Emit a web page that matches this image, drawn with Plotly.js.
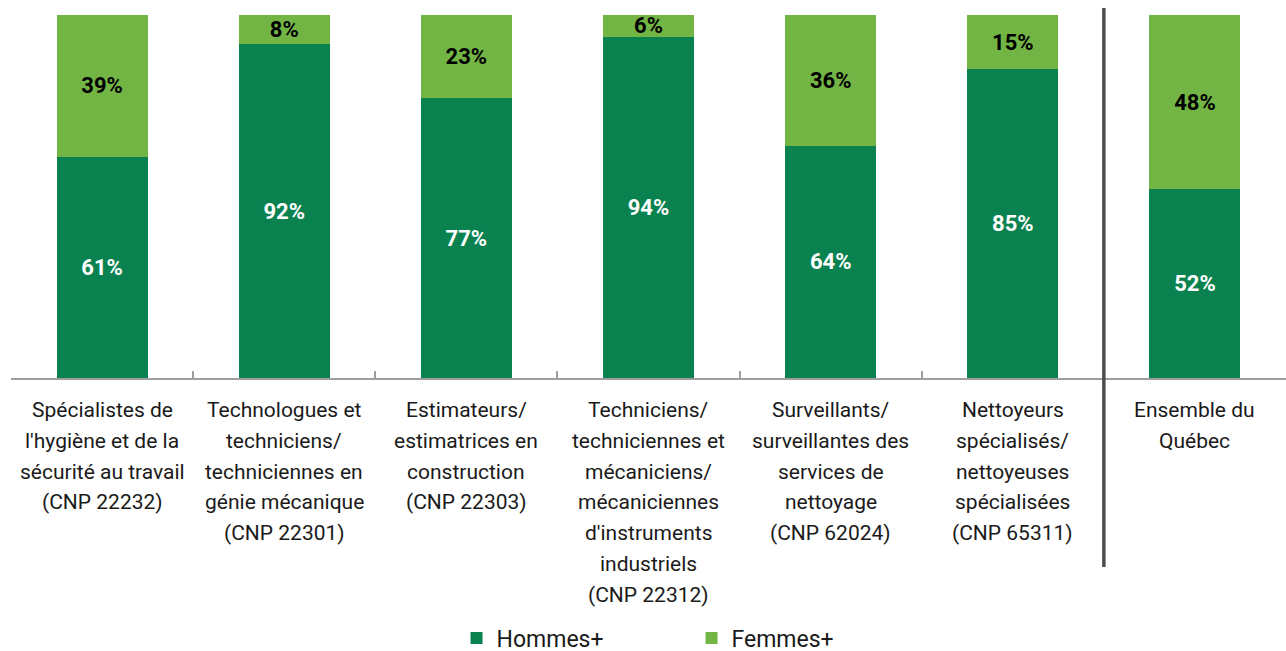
<!DOCTYPE html>
<html>
<head>
<meta charset="utf-8">
<script src="https://cdn.plot.ly/plotly-3.0.1.min.js"></script>
<style>
html,body{margin:0;padding:0;background:#fff;}
#chart{width:1286px;height:651px;}
</style>
</head>
<body>
<div id="chart"></div>
<script>
const categories = [
  "Spécialistes de<br>l'hygiène et de la<br>sécurité au travail<br>(CNP 22232)",
  "Technologues et<br>techniciens/<br>techniciennes en<br>génie mécanique<br>(CNP 22301)",
  "Estimateurs/<br>estimatrices en<br>construction<br>(CNP 22303)",
  "Techniciens/<br>techniciennes et<br>mécaniciens/<br>mécaniciennes<br>d'instruments<br>industriels<br>(CNP 22312)",
  "Surveillants/<br>surveillantes des<br>services de<br>nettoyage<br>(CNP 62024)",
  "Nettoyeurs<br>spécialisés/<br>nettoyeuses<br>spécialisées<br>(CNP 65311)",
  "Ensemble du<br>Québec"
];
const hommes = [61, 92, 77, 94, 64, 85, 52];
const femmes = [39, 8, 23, 6, 36, 15, 48];
const seriesNames = ["Hommes+", "Femmes+"];

const DARK = "#0a8250";
const LIGHT = "#73b545";
const FONT = "Roboto, 'Noto Sans', sans-serif";

const ids = categories.map((c, i) => "c" + i);

const traces = [
  {
    type: "bar", name: seriesNames[0], x: ids, y: hommes,
    marker: {color: DARK, line: {width: 0}},
    text: hommes.map(v => v + "%"), textposition: "inside", insidetextanchor: "middle",
    textangle: 0, constraintext: "none",
    textfont: {family: FONT, size: 22, color: "#ffffff", weight: "bold"},
    hoverinfo: "skip"
  },
  {
    type: "bar", name: seriesNames[1], x: ids, y: femmes,
    marker: {color: LIGHT, line: {width: 0}},
    text: femmes.map(v => v + "%"), textposition: "inside", insidetextanchor: "middle",
    textangle: 0, constraintext: "none",
    textfont: {family: FONT, size: 22, color: "#000000", weight: "bold"},
    hoverinfo: "skip"
  }
];

const annotations = [];
categories.forEach((c, i) => {
  c.split("<br>").forEach((line, j) => {
    annotations.push({
      x: ids[i], xref: "x", y: 0, yref: "paper",
      yanchor: "middle", xanchor: "center",
      yshift: -(32 + j * 30.8),
      text: line, showarrow: false,
      font: {family: FONT, size: 21, color: "#1a1a1a"}
    });
  });
});

const layout = {
  width: 1286, height: 651,
  margin: {l: 11, r: 0, t: 15, b: 273},
  paper_bgcolor: "#ffffff", plot_bgcolor: "#ffffff",
  barmode: "stack", bargap: 0.5,
  showlegend: true,
  legend: {
    orientation: "h", xref: "container", yref: "container",
    x: 0.355, xanchor: "left", y: 0.02, yanchor: "middle",
    font: {family: FONT, size: 23, color: "#1a1a1a"},
    entrywidth: 190, entrywidthmode: "pixels",
    traceorder: "normal"
  },
  xaxis: {
    type: "category", showticklabels: false, showgrid: false, zeroline: false,
    showline: true, linecolor: "#9e9e9e", linewidth: 2,
    ticks: "inside", tickson: "boundaries", ticklen: 7, tickwidth: 2, tickcolor: "#9e9e9e",
    fixedrange: true
  },
  yaxis: {
    range: [0, 100], visible: false, showgrid: false, zeroline: false, fixedrange: true
  },
  shapes: [{
    type: "line", xref: "x", yref: "paper",
    x0: categories.length - 1.5, x1: categories.length - 1.5,
    y0: -0.5207, y1: 1.019,
    line: {color: "#4d4d4d", width: 3.5}
  }],
  annotations: annotations,
  font: {family: FONT}
};

Plotly.newPlot("chart", traces, layout, {displayModeBar: false, staticPlot: true});
</script>
</body>
</html>
